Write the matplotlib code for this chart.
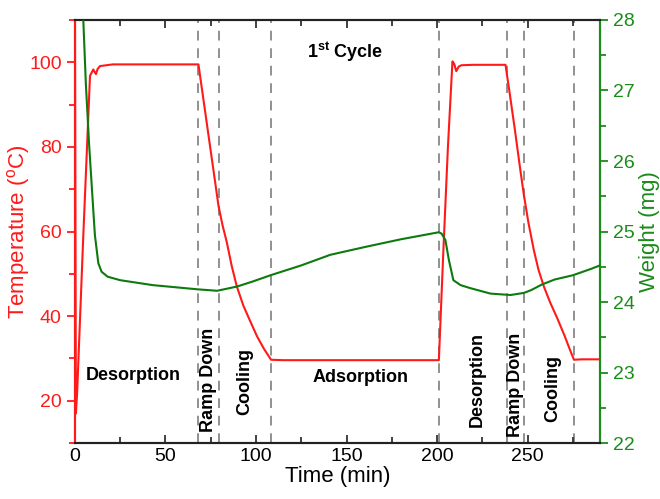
import matplotlib.pyplot as plt
from matplotlib.ticker import MultipleLocator

plt.rcParams['font.family'] = ['Liberation Sans', 'DejaVu Sans']

# temperature (deg C) vs time (min)
t_time = [0, 0.5, 1.2, 4.5, 8.3, 10.1, 11.0, 11.6, 12.5, 13.8, 21, 68.2,
          79.3, 81.5, 83.9, 86.5, 89.4, 93, 96.8, 100.6, 104.5, 108.3, 115,
          201, 203.5, 206, 208.5, 209.5, 210.6, 212, 213.5, 220, 237.8,
          240, 243, 246, 248, 250.5, 253.5, 256, 259, 262.5, 266.4, 270.5,
          273, 275.6, 280, 290]
temp = [112, 17, 22, 58, 96.8, 98.3, 97.6, 97.2, 98.4, 99.1, 99.5, 99.5,
        66, 61.5, 57.4, 52, 47, 42.5, 38.8, 35.2, 32.2, 29.7, 29.6,
        29.6, 55.7, 80, 100.2, 99.6, 97.9, 99.0, 99.3, 99.4, 99.4,
        93, 84, 74.5, 68.5, 62, 55.5, 51, 47, 43.2, 39.5, 35.3,
        32.5, 29.7, 29.8, 29.8]

# weight (mg) vs time (min)
w_time = [3.5, 4.6, 6.0, 7.75, 9.5, 11, 12.9, 14.7, 18, 25, 43, 68, 78.5,
          89.5, 98, 108, 125, 141, 160, 180, 201, 202.5, 204.6, 206.5, 209,
          213, 218, 229.5, 240.6, 248, 252, 258, 265, 275, 285, 290]
weight = [28.6, 28.0, 27.1, 26.26, 25.55, 24.95, 24.55, 24.43, 24.36, 24.31,
          24.24, 24.18, 24.16, 24.22, 24.29, 24.38, 24.52, 24.67, 24.78, 24.89,
          24.99, 24.97, 24.88, 24.6, 24.31, 24.24, 24.2, 24.12, 24.1, 24.13,
          24.17, 24.25, 24.32, 24.38, 24.47, 24.52]

stage_lines = [68, 79.5, 108.5, 201.3, 238.4, 247.8, 275.4]

stage_labels = ['Desorption', 'Ramp Down', 'Cooling', 'Adsorption',
                'Desorption', 'Ramp Down', 'Cooling']
label_x = [32, 74, 94, 157.6, 222, 243.4, 264]
label_y = [25.9, 25, 24.6, 25.4, 25, 23.7, 23]
label_rot = [0, 90, 90, 0, 90, 90, 90]

red = '#ff1a1a'
green = '#1a8c1a'

fig = plt.figure(figsize=(6.6, 4.99), dpi=100)
ax = fig.add_axes([0.1136, 0.112, 0.7955, 0.848])
ax2 = ax.twinx()

for xv in stage_lines:
    ax.axvline(xv, color='#909090', ls=(0, (5, 4)), lw=1.4, zorder=1)

ax.plot(t_time, temp, color=red, lw=1.5, zorder=3)
ax2.plot(w_time, weight, color='#0d7a0d', lw=1.5, zorder=3)

ax.set_xlim(0, 290)
ax.set_ylim(10, 110)
ax2.set_ylim(22, 28)

ax.xaxis.set_major_locator(MultipleLocator(50))
ax.xaxis.set_minor_locator(MultipleLocator(25))
ax.yaxis.set_major_locator(MultipleLocator(20))
ax.yaxis.set_minor_locator(MultipleLocator(10))
ax2.yaxis.set_major_locator(MultipleLocator(1))
ax2.yaxis.set_minor_locator(MultipleLocator(0.5))

ax.tick_params(axis='x', which='both', direction='in', top=True, labelsize=14,
               width=1.3, color='#333333')
ax.tick_params(axis='x', which='major', length=6)
ax.tick_params(axis='x', which='minor', length=4)
ax.tick_params(axis='y', which='both', direction='out', colors=red, labelsize=14,
               width=1.3)
ax.tick_params(axis='y', which='major', length=6)
ax.tick_params(axis='y', which='minor', length=4)
ax2.tick_params(axis='y', which='both', direction='out', colors=green, labelsize=14,
                width=1.3)
ax2.tick_params(axis='y', which='major', length=6)
ax2.tick_params(axis='y', which='minor', length=4)

for a in (ax, ax2):
    a.spines['left'].set_color(red)
    a.spines['right'].set_color(green)
    a.spines['top'].set_color('#222222')
    a.spines['bottom'].set_color('#222222')
    for s in a.spines.values():
        s.set_linewidth(1.5)

ax.set_xlabel('Time (min)', fontsize=16, labelpad=1)
ax.set_ylabel('Temperature ($\\mathregular{^o}$C)', color=red, fontsize=16)
ax2.set_ylabel('Weight (mg)', color=green, fontsize=16)
ax.yaxis.set_label_coords(-0.082, 0.5)
ax2.yaxis.set_label_coords(1.074, 0.5)

for txt, xv, yv, rot in zip(stage_labels, label_x, label_y, label_rot):
    ax.text(xv, yv, txt, rotation=rot, ha='center', va='center',
            fontsize=13, fontweight='bold', zorder=4)

ax.text(149, 102.4, '1$\\mathregular{^{st}}$ Cycle', ha='center', va='center',
        fontsize=13, fontweight='bold')

fig.savefig('out.png', dpi=100)
